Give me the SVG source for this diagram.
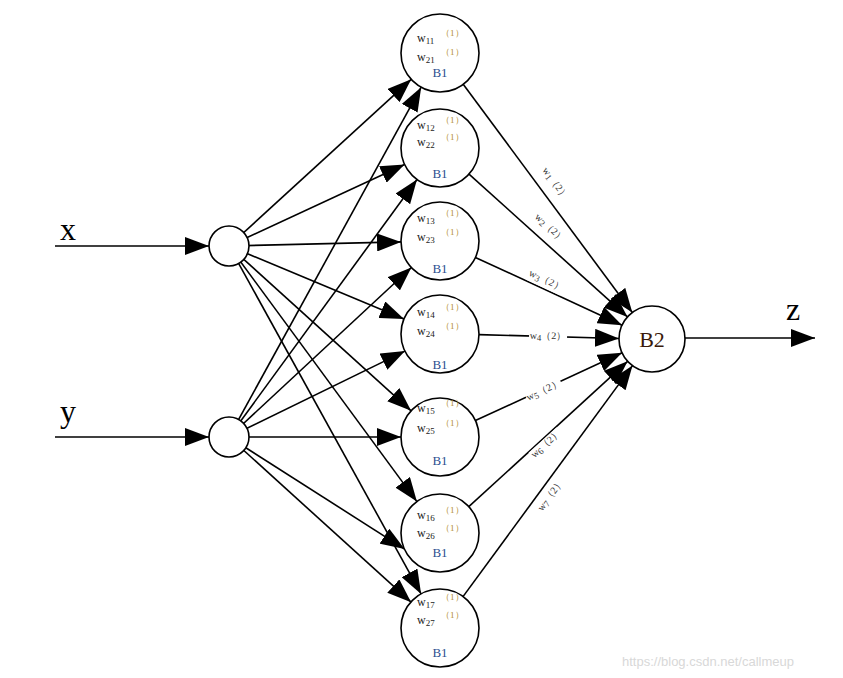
<svg xmlns="http://www.w3.org/2000/svg" width="843" height="678" viewBox="0 0 843 678">
<style>
.e{stroke:#000;stroke-width:1.6;fill:none}
.n{fill:#fff;stroke:#000;stroke-width:1.6}
.t{font-family:"Liberation Serif",serif}
.w{font-size:12px;fill:#222}
.s{font-size:9px}
.p{font-size:9px;fill:#b08a2a}
.b{font-size:13px;fill:#2a4f8f;text-anchor:middle}
.l{font-size:10px;fill:#333;text-anchor:middle}
</style>
<defs>
<marker id="ar2" viewBox="0 0 10 10" refX="10" refY="5" markerWidth="24" markerHeight="18" markerUnits="userSpaceOnUse" orient="auto" preserveAspectRatio="none"><path d="M0,0L10,5L0,10z" fill="#000"/></marker>
</defs>
<g id="connectors">
<line class="e" x1="55" y1="246" x2="209" y2="246" marker-end="url(#ar2)"/>
<line class="e" x1="55" y1="437" x2="209" y2="437" marker-end="url(#ar2)"/>
<line class="e" x1="685" y1="338" x2="815" y2="338" marker-end="url(#ar2)"/>
<g marker-end="url(#ar2)">
<line class="e" x1="229" y1="246" x2="411.2" y2="79.3"/>
<line class="e" x1="229" y1="246" x2="404.6" y2="164.4"/>
<line class="e" x1="229" y1="246" x2="401" y2="241.9"/>
<line class="e" x1="229" y1="246" x2="404" y2="319"/>
<line class="e" x1="229" y1="246" x2="411.1" y2="410.8"/>
<line class="e" x1="229" y1="246" x2="416.9" y2="501.6"/>
<line class="e" x1="229" y1="246" x2="421.1" y2="593.9"/>
<line class="e" x1="229" y1="437" x2="421.2" y2="87.2"/>
<line class="e" x1="229" y1="437" x2="417" y2="179.5"/>
<line class="e" x1="229" y1="437" x2="411.4" y2="267.5"/>
<line class="e" x1="229" y1="437" x2="405" y2="351.1"/>
<line class="e" x1="229" y1="437" x2="401" y2="437"/>
<line class="e" x1="229" y1="437" x2="404.6" y2="549.1"/>
<line class="e" x1="229" y1="437" x2="411.1" y2="602.2"/>
<line class="e" x1="463.2" y1="84.3" x2="632.3" y2="312.5"/>
<line class="e" x1="469" y1="174.1" x2="627.5" y2="316.9"/>
<line class="e" x1="475.4" y1="257.4" x2="622.1" y2="325.2"/>
<line class="e" x1="479" y1="334.6" x2="619" y2="338.5"/>
<line class="e" x1="475.4" y1="420.6" x2="622.1" y2="352.8"/>
<line class="e" x1="468.8" y1="506.7" x2="627.6" y2="361.3"/>
<line class="e" x1="463" y1="596.6" x2="632.5" y2="365.6"/>
</g>
<g class="t">
<g transform="translate(553,185) rotate(53.4)"><rect x="-19" y="-8" width="38" height="13" fill="#fff"/><text class="l">w<tspan class="s" dy="2">1</tspan><tspan dy="-2">（2）</tspan></text></g>
<g transform="translate(548,230) rotate(42)"><rect x="-19" y="-8" width="38" height="13" fill="#fff"/><text class="l">w<tspan class="s" dy="2">2</tspan><tspan dy="-2">（2）</tspan></text></g>
<g transform="translate(545,283) rotate(24.8)"><rect x="-19" y="-8" width="38" height="13" fill="#fff"/><text class="l">w<tspan class="s" dy="2">3</tspan><tspan dy="-2">（2）</tspan></text></g>
<g transform="translate(548,339) rotate(1)"><rect x="-19" y="-8" width="38" height="13" fill="#fff"/><text class="l">w<tspan class="s" dy="2">4</tspan><tspan dy="-2">（2）</tspan></text></g>
<g transform="translate(545,393) rotate(-24.8)"><rect x="-19" y="-8" width="38" height="13" fill="#fff"/><text class="l">w<tspan class="s" dy="2">5</tspan><tspan dy="-2">（2）</tspan></text></g>
<g transform="translate(548,446) rotate(-42.3)"><rect x="-19" y="-8" width="38" height="13" fill="#fff"/><text class="l">w<tspan class="s" dy="2">6</tspan><tspan dy="-2">（2）</tspan></text></g>
<g transform="translate(553,497) rotate(-53.7)"><rect x="-19" y="-8" width="38" height="13" fill="#fff"/><text class="l">w<tspan class="s" dy="2">7</tspan><tspan dy="-2">（2）</tspan></text></g>
</g>
</g>
<g class="t" font-size="32">
<text x="60" y="240">x</text>
<text x="60" y="422">y</text>
<text x="786" y="320">z</text>
</g>
<g id="in-x"><circle class="n" cx="229" cy="246" r="20"/></g>
<g id="in-y"><circle class="n" cx="229" cy="437" r="20"/></g>
<g id="out"><circle class="n" cx="652" cy="339" r="33"/><text class="t" x="652" y="361" font-size="22" fill="#3a1a0a" text-anchor="middle" dy="-14">B2</text></g>
<g id="h1" class="t"><circle class="n" cx="440" cy="53" r="39"/><text class="w" x="417" y="42">w<tspan class="s" dy="2">11</tspan></text><text class="p" x="441" y="36">（1）</text><text class="w" x="417" y="61">w<tspan class="s" dy="2">21</tspan></text><text class="p" x="441" y="55">（1）</text><text class="b" x="440" y="77">B1</text></g>
<g id="h2" class="t"><circle class="n" cx="440" cy="148" r="39"/><text class="w" x="417" y="129">w<tspan class="s" dy="2">12</tspan></text><text class="p" x="441" y="123">（1）</text><text class="w" x="417" y="146">w<tspan class="s" dy="2">22</tspan></text><text class="p" x="441" y="140">（1）</text><text class="b" x="440" y="178">B1</text></g>
<g id="h3" class="t"><circle class="n" cx="440" cy="241" r="39"/><text class="w" x="417" y="222">w<tspan class="s" dy="2">13</tspan></text><text class="p" x="441" y="216">（1）</text><text class="w" x="417" y="241">w<tspan class="s" dy="2">23</tspan></text><text class="p" x="441" y="235">（1）</text><text class="b" x="440" y="273">B1</text></g>
<g id="h4" class="t"><circle class="n" cx="440" cy="334" r="39"/><text class="w" x="417" y="316">w<tspan class="s" dy="2">14</tspan></text><text class="p" x="441" y="310">（1）</text><text class="w" x="417" y="335">w<tspan class="s" dy="2">24</tspan></text><text class="p" x="441" y="329">（1）</text><text class="b" x="440" y="369">B1</text></g>
<g id="h5" class="t"><circle class="n" cx="440" cy="437" r="39"/><text class="w" x="417" y="412">w<tspan class="s" dy="2">15</tspan></text><text class="p" x="441" y="406">（1）</text><text class="w" x="417" y="432">w<tspan class="s" dy="2">25</tspan></text><text class="p" x="441" y="426">（1）</text><text class="b" x="440" y="465">B1</text></g>
<g id="h6" class="t"><circle class="n" cx="440" cy="533" r="39"/><text class="w" x="417" y="519">w<tspan class="s" dy="2">16</tspan></text><text class="p" x="441" y="513">（1）</text><text class="w" x="417" y="537">w<tspan class="s" dy="2">26</tspan></text><text class="p" x="441" y="531">（1）</text><text class="b" x="440" y="557">B1</text></g>
<g id="h7" class="t"><circle class="n" cx="440" cy="628" r="39"/><text class="w" x="417" y="606">w<tspan class="s" dy="2">17</tspan></text><text class="p" x="441" y="600">（1）</text><text class="w" x="417" y="624">w<tspan class="s" dy="2">27</tspan></text><text class="p" x="441" y="618">（1）</text><text class="b" x="440" y="657">B1</text></g>
<text x="622" y="666" font-family="Liberation Sans,sans-serif" font-size="13" fill="#d8d8d8">https://blog.csdn.net/callmeup</text>
</svg>
